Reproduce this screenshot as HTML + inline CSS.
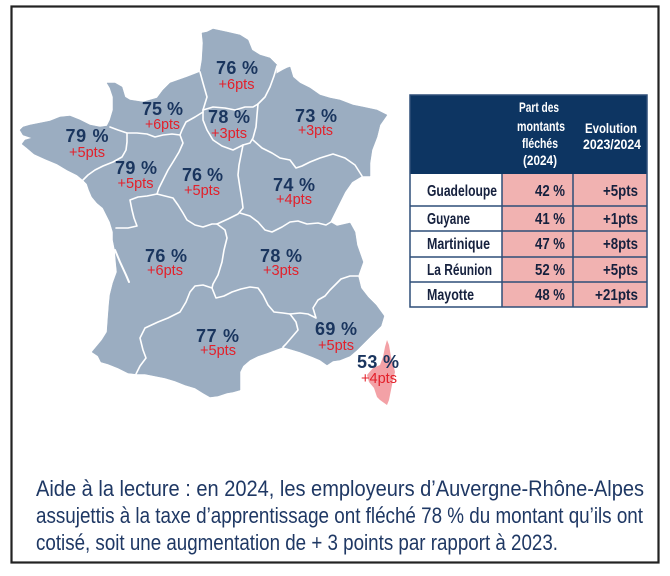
<!DOCTYPE html>
<html><head><meta charset="utf-8"><style>
html,body{margin:0;padding:0;background:#fff;}
svg{display:block;}
text{font-family:"Liberation Sans",Arial,sans-serif;}
</style></head><body>
<svg width="670" height="576" viewBox="0 0 670 576" xmlns="http://www.w3.org/2000/svg">
<rect x="0" y="0" width="670" height="576" fill="#fff"/>
<rect x="11.5" y="6.5" width="647" height="556" fill="none" stroke="#222" stroke-width="2.2"/>

<!-- France mainland -->
<path fill="#9badc1" stroke="#9badc1" stroke-width="0.5" stroke-linejoin="round" d="
M202,33 L207,32 L213,29 L227,32 L240,35 L248,40 L252,50 L260,55 L270,58 L277,65 L276,74 L283,70 L287,68 L290,67
L293,77 L300,83 L310,88 L320,95 L330,98 L340,100 L353,105 L363,107 L377,110 L387,115 L380,125 L377,137 L372,150 L370,163 L370,176
L362,176 L352,182 L345,192 L340,202 L334,214 L330,222 L337,226 L350,223 L355,232 L357,245 L363,262 L358,276 L361,288 L368,297 L376,305 L384,316
L381,326 L372,335 L364,343 L357,350 L350,356 L340,360 L333,361 L327,365 L320,360 L313,357 L300,352 L290,349 L283,347 L275,350 L267,353 L258,356 L250,360 L243,366 L240,372 L240,382 L240,390 L233,392 L227,393 L218,396 L210,397 L203,393 L195,388 L185,385 L175,381 L165,378 L155,376 L145,374 L137,374 L128,373 L118,368 L108,364 L101,362 L98,356 L92,352
L97,346 L102,340 L107,332 L108,318 L109,305 L110,295 L113,283 L117,272 L116,262 L115,250 L113,240 L113,232 L110,222 L106,214 L103,208 L97,203 L92,197 L89,190 L87,184 L83,180 L77,175
L67,170 L57,164 L45,159 L34,154 L27,148 L22,144 L25,140 L32,138 L23,135 L20,130 L23,127 L30,125 L40,123 L50,121 L60,117 L70,116 L80,120 L90,125 L100,127 L107,126
L110,120 L113,110 L113,97 L110,88 L107,83 L115,83 L122,87 L125,97 L130,100 L143,102 L157,98 L163,90 L170,83 L187,77 L200,72 L202,60 L203,43 Z"/>

<!-- internal borders -->
<g fill="none" stroke="#fff" stroke-width="1.6" stroke-linejoin="round" stroke-linecap="round">
<polyline points="200,72 203,83 207,97 203,110"/>
<polyline points="203,110 213,107 225,108 235,110 245,107 253,107 258,104"/>
<polyline points="277,66 274,76 270,87 265,97 258,104"/>
<polyline points="258,104 257,115 256,127 253,138 250,143 243,145"/>
<polyline points="253,140 262,148 272,153 280,158 290,160 296,168 302,166 310,162 320,158 333,154 345,158 355,165 362,176"/>
<polyline points="243,145 233,150 222,146 213,140 207,130 203,120 203,110"/>
<polyline points="203,112 195,117 186,122 182,130 180,135"/>
<polyline points="180,135 172,134 163,135 155,137 147,134 137,133 127,133 118,130 110,127"/>
<polyline points="127,133 127,142 126,150 122,157 113,162 103,166 95,170 88,175 83,180"/>
<polyline points="180,135 183,143 179,152 173,162 168,170 163,180 159,188 157,194"/>
<polyline points="157,194 147,196 138,197 130,200 132,210 134,218 137,226 128,228 116,228"/>
<polyline points="157,194 165,196 173,198 178,205 183,213 187,220 195,225 203,227 212,224 217,224"/>
<polyline points="243,145 241,155 239,165 238,175 240,188 242,200 243,208 238,214 228,219 217,224"/>
<polyline points="240,213 250,216 258,222 265,230 272,232 282,227 290,222 298,221 307,224 318,223 326,225 331,222"/>
<polyline points="217,224 225,230 227,238 224,250 222,262 218,275 213,284 212,288"/>
<polyline points="212,288 203,285 195,286 190,292 186,302 180,312 168,318 158,322 145,328 140,338 143,350 146,358 140,366 136,374"/>
<polyline points="212,288 216,298 224,296 232,292 241,289 250,287 258,288 263,295 268,305 274,312 283,313 290,314"/>
<polyline points="290,314 300,313 308,314 316,318 313,308 318,300 325,296 330,290 336,284 341,279 350,276 358,276"/>
<polyline points="290,314 296,322 298,330 292,337 286,344 283,347"/>
<polyline points="115,250 120,262 126,275 129,282" stroke-width="2"/>
</g>

<!-- Corse -->
<path fill="#f3a1a6" d="M387,340 L389,345 L391,357 L393,363 L395,372 L393,380 L391,390 L389,400 L387,405 L380,400 L377,397 L374,388 L369,382 L367,375 L373,368 L380,365 L383,357 L385,347 Z"/>

<!-- map labels -->
<g font-weight="bold" font-size="18" fill="#1a355e" text-anchor="middle">
<text x="237" y="74" textLength="42" lengthAdjust="spacing">76 %</text>
<text x="162.5" y="115" textLength="41" lengthAdjust="spacing">75 %</text>
<text x="229" y="123" textLength="42" lengthAdjust="spacing">78 %</text>
<text x="316" y="122" textLength="42" lengthAdjust="spacing">73 %</text>
<text x="87" y="142" textLength="43" lengthAdjust="spacing">79 %</text>
<text x="136" y="174" textLength="42" lengthAdjust="spacing">79 %</text>
<text x="202.5" y="181" textLength="41" lengthAdjust="spacing">76 %</text>
<text x="294" y="191" textLength="42" lengthAdjust="spacing">74 %</text>
<text x="166" y="262" textLength="42" lengthAdjust="spacing">76 %</text>
<text x="281" y="262" textLength="42" lengthAdjust="spacing">78 %</text>
<text x="217.5" y="342" textLength="43" lengthAdjust="spacing">77 %</text>
<text x="336" y="335" textLength="42" lengthAdjust="spacing">69 %</text>
<text x="378" y="368" textLength="42" lengthAdjust="spacing">53 %</text>
</g>
<g font-size="15" fill="#e3202a" text-anchor="middle">
<text x="236.5" y="89" textLength="36" lengthAdjust="spacingAndGlyphs">+6pts</text>
<text x="162.5" y="129" textLength="35" lengthAdjust="spacingAndGlyphs">+6pts</text>
<text x="229" y="138" textLength="36" lengthAdjust="spacingAndGlyphs">+3pts</text>
<text x="315.5" y="135" textLength="35" lengthAdjust="spacingAndGlyphs">+3pts</text>
<text x="87" y="157" textLength="36" lengthAdjust="spacingAndGlyphs">+5pts</text>
<text x="135.5" y="188" textLength="36" lengthAdjust="spacingAndGlyphs">+5pts</text>
<text x="202" y="195" textLength="36" lengthAdjust="spacingAndGlyphs">+5pts</text>
<text x="294" y="204" textLength="36" lengthAdjust="spacingAndGlyphs">+4pts</text>
<text x="165" y="275" textLength="36" lengthAdjust="spacingAndGlyphs">+6pts</text>
<text x="281" y="275" textLength="36" lengthAdjust="spacingAndGlyphs">+3pts</text>
<text x="218" y="355" textLength="36" lengthAdjust="spacingAndGlyphs">+5pts</text>
<text x="336" y="350" textLength="36" lengthAdjust="spacingAndGlyphs">+5pts</text>
<text x="379" y="383" textLength="36" lengthAdjust="spacingAndGlyphs">+4pts</text>
</g>

<!-- table -->
<rect x="410" y="95" width="237" height="79" fill="#0d3562"/>
<rect x="410" y="174" width="92" height="133" fill="#fff"/>
<rect x="502" y="174" width="145" height="133" fill="#f1b2b1"/>
<g stroke="#2e4e78" stroke-width="1.5" fill="none">
<rect x="410" y="95" width="237" height="212"/>
<line x1="410" y1="206" x2="647" y2="206"/>
<line x1="410" y1="231" x2="647" y2="231"/>
<line x1="410" y1="257" x2="647" y2="257"/>
<line x1="410" y1="282" x2="647" y2="282"/>
<line x1="502" y1="174" x2="502" y2="307"/>
<line x1="573" y1="174" x2="573" y2="307"/>
</g>
<g fill="#fff" font-weight="bold" font-size="14" text-anchor="middle">
<text x="539" y="112" textLength="40" lengthAdjust="spacingAndGlyphs">Part des</text>
<text x="541" y="131" textLength="48" lengthAdjust="spacingAndGlyphs">montants</text>
<text x="540" y="148" textLength="36" lengthAdjust="spacingAndGlyphs">fléchés</text>
<text x="540" y="165" textLength="34" lengthAdjust="spacingAndGlyphs">(2024)</text>
<text x="611" y="133" textLength="52" lengthAdjust="spacingAndGlyphs">Evolution</text>
<text x="612" y="149" textLength="58" lengthAdjust="spacingAndGlyphs">2023/2024</text>
</g>
<g fill="#16213e" font-weight="bold" font-size="16">
<text x="427" y="196" textLength="70" lengthAdjust="spacingAndGlyphs">Guadeloupe</text>
<text x="427" y="224" textLength="43" lengthAdjust="spacingAndGlyphs">Guyane</text>
<text x="427" y="249" textLength="63" lengthAdjust="spacingAndGlyphs">Martinique</text>
<text x="427" y="275" textLength="65" lengthAdjust="spacingAndGlyphs">La Réunion</text>
<text x="427" y="300" textLength="47" lengthAdjust="spacingAndGlyphs">Mayotte</text>
</g>
<g fill="#16213e" font-weight="bold" font-size="16" text-anchor="end">
<text x="565" y="196" textLength="30" lengthAdjust="spacingAndGlyphs">42 %</text>
<text x="565" y="224" textLength="30" lengthAdjust="spacingAndGlyphs">41 %</text>
<text x="565" y="249" textLength="30" lengthAdjust="spacingAndGlyphs">47 %</text>
<text x="565" y="275" textLength="30" lengthAdjust="spacingAndGlyphs">52 %</text>
<text x="565" y="300" textLength="30" lengthAdjust="spacingAndGlyphs">48 %</text>
<text x="638" y="196" textLength="35" lengthAdjust="spacingAndGlyphs">+5pts</text>
<text x="638" y="224" textLength="35" lengthAdjust="spacingAndGlyphs">+1pts</text>
<text x="638" y="249" textLength="35" lengthAdjust="spacingAndGlyphs">+8pts</text>
<text x="638" y="275" textLength="35" lengthAdjust="spacingAndGlyphs">+5pts</text>
<text x="638" y="300" textLength="43" lengthAdjust="spacingAndGlyphs">+21pts</text>
</g>

<!-- reading aid -->
<g fill="#1f3864" font-size="22">
<text x="36" y="496" textLength="608" lengthAdjust="spacingAndGlyphs">Aide à la lecture : en 2024, les employeurs d’Auvergne-Rhône-Alpes</text>
<text x="36" y="523" textLength="607" lengthAdjust="spacingAndGlyphs">assujettis à la taxe d’apprentissage ont fléché 78 % du montant qu’ils ont</text>
<text x="36" y="550" textLength="522" lengthAdjust="spacingAndGlyphs">cotisé, soit une augmentation de + 3 points par rapport à 2023.</text>
</g>
</svg>
</body></html>
